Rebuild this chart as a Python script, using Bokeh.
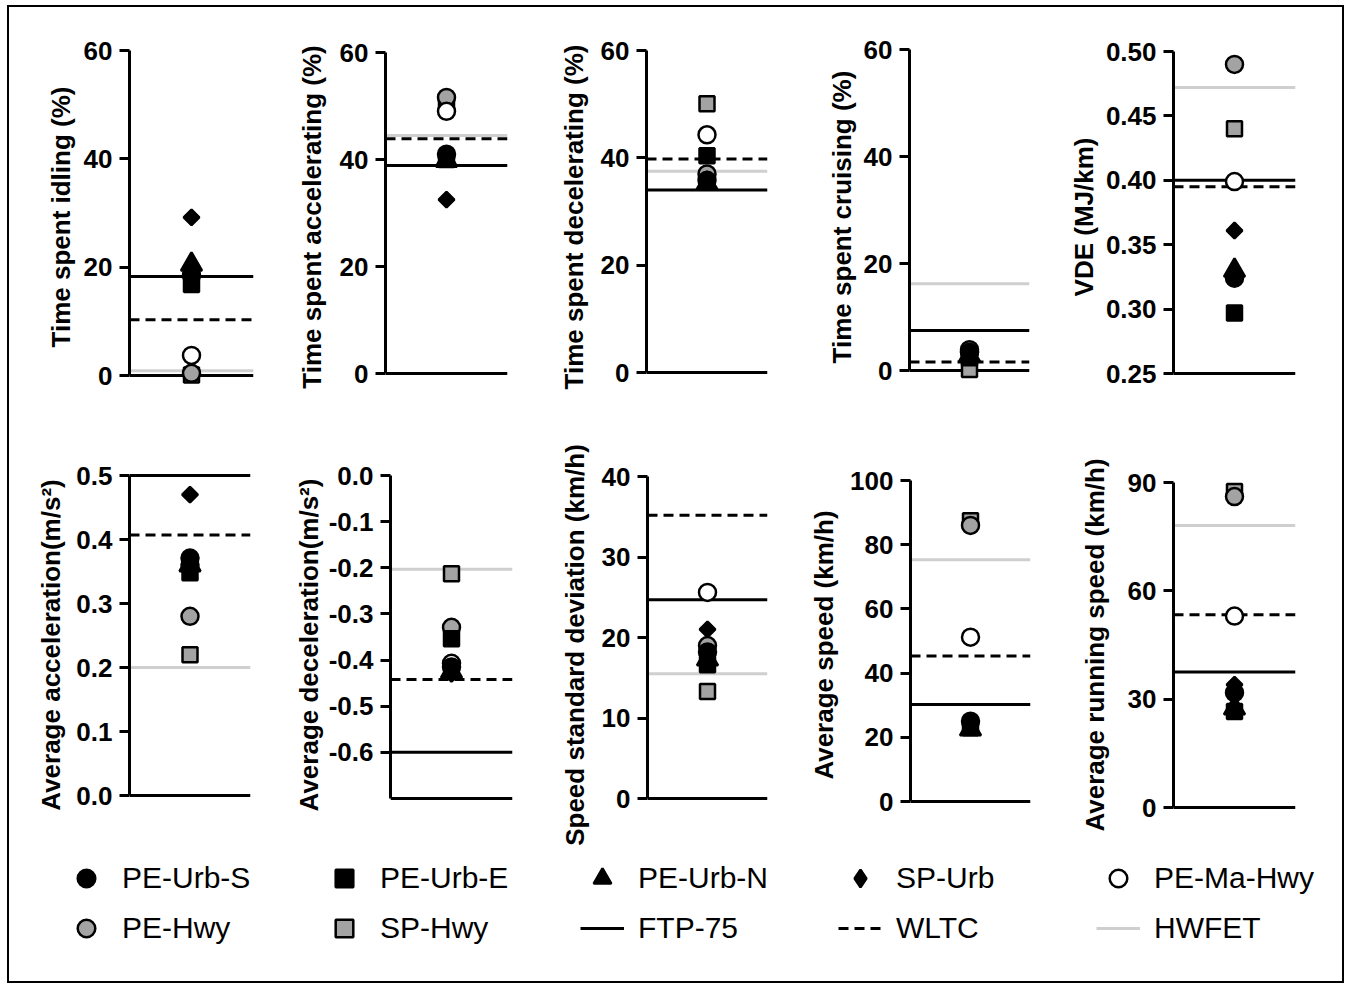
import math
from bokeh.plotting import figure
from bokeh.layouts import row, column
from bokeh.models import (Range1d, FactorRange, FixedTicker, NumeralTickFormatter,
                          Span, Legend, LegendItem)
from bokeh.embed import file_html
from bokeh.resources import INLINE

FONT = "Liberation Sans"
GRAY = "#a3a3a3"
LIGHT = "#cfcfcf"

# ---------------- data ----------------
metrics = ["Time spent idling (%)", "Time spent accelerating (%)",
           "Time spent decelerating (%)", "Time spent cruising (%)", "VDE (MJ/km)",
           "Average acceleration(m/s\u00b2)", "Average deceleration(m/s\u00b2)",
           "Speed standard deviation (km/h)", "Average speed (km/h)",
           "Average running speed (km/h)"]

y_min = [0, 0, 0, 0, 0.25, 0.0, -0.7, 0, 0, 0]
y_max = [60, 60, 60, 60, 0.50, 0.5, 0.0, 40, 100, 90]
y_ticks = [[0, 20, 40, 60], [0, 20, 40, 60], [0, 20, 40, 60], [0, 20, 40, 60],
           [0.25, 0.30, 0.35, 0.40, 0.45, 0.50],
           [0.0, 0.1, 0.2, 0.3, 0.4, 0.5],
           [-0.6, -0.5, -0.4, -0.3, -0.2, -0.1, 0.0],
           [0, 10, 20, 30, 40], [0, 20, 40, 60, 80, 100], [0, 30, 60, 90]]
tick_formats = ["0", "0", "0", "0", "0.00", "0.0", "0.0", "0", "0", "0"]

series_names = ["PE-Urb-S", "PE-Urb-E", "PE-Urb-N", "SP-Urb", "PE-Ma-Hwy", "PE-Hwy", "SP-Hwy"]
pe_urb_s = [18.5, 41.0, 35.8, 3.4, 0.324, 0.371, -0.415, 18.2, 25.0, 31.8]
pe_urb_e = [16.8, 40.0, 40.4, 2.4, 0.297, 0.348, -0.354, 16.6, 23.0, 26.6]
pe_urb_n = [20.5, 39.8, 35.2, 2.8, 0.330, 0.360, -0.425, 17.3, 22.5, 27.5]
sp_urb = [29.2, 32.5, 35.5, 3.0, 0.361, 0.470, -0.430, 21.0, 24.0, 34.0]
pe_ma_hwy = [3.7, 49.0, 44.3, 3.9, 0.399, 0.360, -0.407, 25.6, 51.2, 53.0]
pe_hwy = [0.4, 51.6, 37.0, 3.5, 0.490, 0.280, -0.329, 19.0, 86.0, 86.1]
sp_hwy = [0.1, 50.3, 50.1, 0.2, 0.440, 0.220, -0.213, 13.3, 87.5, 87.5]

ftp75 = [18.3, 38.9, 34.0, 7.5, 0.400, 0.500, -0.600, 24.7, 30.2, 37.5]
wltc = [10.3, 43.9, 39.8, 1.6, 0.395, 0.407, -0.442, 35.2, 45.3, 53.4]
hwfet = [0.9, 44.5, 37.5, 16.2, 0.472, 0.200, -0.203, 15.5, 75.3, 78.1]

series_values = {"PE-Urb-S": pe_urb_s, "PE-Urb-E": pe_urb_e, "PE-Urb-N": pe_urb_n,
                 "SP-Urb": sp_urb, "PE-Ma-Hwy": pe_ma_hwy, "PE-Hwy": pe_hwy,
                 "SP-Hwy": sp_hwy}

# ---------------- styles ----------------
marker_style = {
    "PE-Urb-S": dict(marker="circle", size=17, fill_color="black"),
    "PE-Urb-E": dict(marker="square", size=15, fill_color="black"),
    "PE-Urb-N": dict(marker="triangle", size=21, fill_color="black"),
    "SP-Urb": dict(marker="square", size=11, angle=math.pi / 4, fill_color="black"),
    "PE-Ma-Hwy": dict(marker="circle", size=17, fill_color="white"),
    "PE-Hwy": dict(marker="circle", size=17, fill_color=GRAY),
    "SP-Hwy": dict(marker="square", size=15, fill_color=GRAY),
}
draw_order = ["SP-Hwy", "PE-Hwy", "PE-Ma-Hwy", "SP-Urb", "PE-Urb-N", "PE-Urb-E", "PE-Urb-S"]

# ---------------- layout (pixels) ----------------
ORIGIN_X, ORIGIN_Y = 9, 7           # content origin on the page
col_w = [260, 260, 260, 260, 293]
row_h = [426, 414]
row_frame = [(46, 387), (470, 819)]  # frame top / bottom (page px) per row
# per panel: (axis x, frame right x, y px of axis max, y px of axis min, label standoff)
panel_px = [
    (129, 253, 50, 375, 5),
    (385, 507, 52, 373, 10),
    (646, 767, 50, 372, 9),
    (909, 1029, 49, 370, 4),
    (1173, 1295, 51, 373, 4),
    (129, 250, 475, 795, 7),
    (390, 512, 475, 798, 2),
    (647, 767, 476, 798, 9),
    (910, 1030, 480, 801, 8),
    (1173, 1295, 482, 807, 15),
]


def make_panel(i):
    r, c = divmod(i, 5)
    ax_x, right_x, top_px, bot_px, lstand = panel_px[i]
    W, H = col_w[c], row_h[r]
    fig_x0 = ORIGIN_X + sum(col_w[:c])
    fig_y0 = ORIGIN_Y + sum(row_h[:r])
    T, B = row_frame[r]
    left = ax_x - fig_x0
    fw = right_x - ax_x
    mbt = T - fig_y0
    mbb = H - mbt - (B - T)
    lo, hi = y_min[i], y_max[i]
    scale = (hi - lo) / (bot_px - top_px)
    y_start = lo - (B - bot_px) * scale
    y_end = hi + (top_px - T) * scale

    p = figure(width=W, height=H, x_range=FactorRange(factors=[metrics[i]]),
               y_range=Range1d(y_start, y_end), output_backend="svg",
               toolbar_location=None, x_axis_location=None,
               min_border_left=left, min_border_right=W - left - fw,
               min_border_top=mbt, min_border_bottom=mbb)
    p.grid.visible = False
    p.outline_line_color = None
    p.background_fill_color = "white"
    p.border_fill_color = "white"

    ax = p.yaxis[0]
    ax.ticker = FixedTicker(ticks=y_ticks[i], minor_ticks=[])
    ax.formatter = NumeralTickFormatter(format=tick_formats[i])
    ax.bounds = (lo, hi)
    ax.axis_label = metrics[i]
    ax.axis_label_text_font = FONT
    ax.axis_label_text_font_size = "26px"
    ax.axis_label_text_font_style = "bold"
    ax.axis_label_text_color = "black"
    ax.axis_label_standoff = lstand
    ax.major_label_text_font = FONT
    ax.major_label_text_font_size = "26px"
    ax.major_label_text_font_style = "bold"
    ax.major_label_text_color = "black"
    ax.major_label_standoff = 7
    ax.axis_line_width = 3
    ax.axis_line_color = "black"
    ax.major_tick_line_width = 3
    ax.major_tick_line_color = "black"
    ax.major_tick_in = 0
    ax.major_tick_out = 10
    ax.minor_tick_line_color = None

    for val, color, dash in [(hwfet[i], LIGHT, "solid"), (wltc[i], "black", "10 6"),
                             (ftp75[i], "black", "solid")]:
        p.add_layout(Span(location=val, dimension="width", line_color=color,
                          line_width=3, line_dash=dash, level="underlay"))
    # x baseline at the axis minimum
    p.add_layout(Span(location=lo, dimension="width", line_color="black",
                      line_width=3, level="underlay"))

    for name in draw_order:
        st = marker_style[name]
        p.scatter(x=[metrics[i]], y=[series_values[name][i]], line_color="black",
                  line_width=2.5, **st)
    return p


panels = [make_panel(i) for i in range(10)]
row1 = row(*panels[:5])
row2 = row(*panels[5:])

# ---------------- legend ----------------
LW, LH = 1333, 134
lg = figure(width=LW, height=LH, x_range=Range1d(0, 1), y_range=Range1d(0, 1),
            output_backend="svg", toolbar_location=None, x_axis_location=None,
            y_axis_location=None, min_border=0)
lg.grid.visible = False
lg.outline_line_color = None

# legend-only renderers, kept outside the visible range
OFF = [-10, -11]
legend_marker = dict(marker_style)
legend_marker["SP-Urb"] = dict(marker="diamond", size=15, fill_color="black")
items = []
for name in series_names:
    st = dict(legend_marker[name])
    st.pop("angle", None)
    rr = lg.scatter(x=OFF[:1], y=OFF[:1], line_color="black", line_width=2.5, **st)
    items.append(LegendItem(label=name, renderers=[rr]))
for name, color, dash in [("FTP-75", "black", "solid"), ("WLTC", "black", "10 6"),
                          ("HWFET", LIGHT, "solid")]:
    rr = lg.line(x=OFF, y=OFF, line_color=color, line_width=3, line_dash=dash)
    items.append(LegendItem(label=name, renderers=[rr]))

legend = Legend(items=items, orientation="horizontal", ncols=5, location=(55, 31),
                glyph_width=44, glyph_height=44, label_height=44, label_width=194,
                label_standoff=14, spacing=6, padding=0, margin=0,
                border_line_color=None, background_fill_alpha=0,
                label_text_font=FONT, label_text_font_size="30px",
                label_text_color="black", label_text_baseline="middle")
lg.add_layout(legend, "center")

layout = column(row1, row2, lg,
                styles={"border": "2px solid black", "margin": "5px 0 0 7px"})

open("out.html", "w").write(file_html(layout, INLINE))
